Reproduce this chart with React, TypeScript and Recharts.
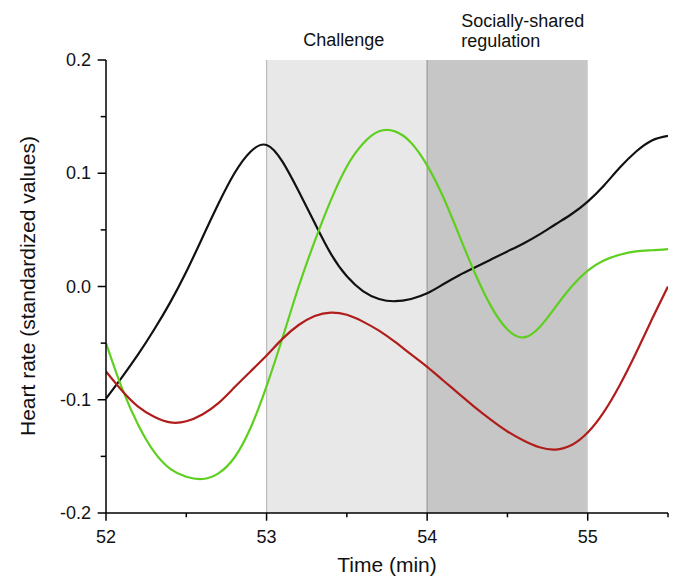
import { LineChart, Line, XAxis, YAxis, ReferenceArea, ReferenceLine } from "recharts";

const times = [
  52.0, 52.1, 52.2, 52.3, 52.4, 52.5, 52.6, 52.7, 52.8, 52.9,
  53.0, 53.1, 53.2, 53.3, 53.4, 53.5, 53.6, 53.7, 53.8, 53.9,
  54.0, 54.1, 54.2, 54.3, 54.4, 54.5, 54.6, 54.7, 54.8, 54.9,
  55.0, 55.1, 55.2, 55.3, 55.4, 55.5,
];

const blackSeries = [
  -0.099, -0.08, -0.06, -0.038, -0.014, 0.013, 0.043, 0.073, 0.1, 0.119,
  0.125, 0.11, 0.084, 0.056, 0.029, 0.009, -0.004, -0.011, -0.013, -0.011,
  -0.006, 0.002, 0.01, 0.017, 0.024, 0.031, 0.038, 0.046, 0.055, 0.064,
  0.075, 0.089, 0.105, 0.119, 0.129, 0.133,
];

const greenSeries = [
  -0.05, -0.09, -0.122, -0.146, -0.161, -0.168, -0.17, -0.165, -0.151, -0.125,
  -0.088, -0.045, 0.0, 0.04, 0.076, 0.106, 0.126, 0.137, 0.137, 0.127,
  0.107, 0.079, 0.045, 0.011, -0.018, -0.038, -0.045, -0.036, -0.018, 0.0,
  0.014, 0.023, 0.028, 0.031, 0.032, 0.033,
];

const redSeries = [
  -0.075, -0.092, -0.106, -0.115, -0.12, -0.119, -0.113, -0.103, -0.089, -0.075,
  -0.061, -0.046, -0.034, -0.026, -0.023, -0.025, -0.031, -0.039, -0.049, -0.06,
  -0.071, -0.083, -0.095, -0.107, -0.118, -0.128, -0.136, -0.142, -0.144, -0.14,
  -0.129, -0.111, -0.087, -0.059, -0.029, 0.0,
];

const xTicks = [52, 52.5, 53, 53.5, 54, 54.5, 55, 55.5];
const xMajor = [52, 53, 54, 55];
const yTicks = [-0.2, -0.15, -0.1, -0.05, 0, 0.05, 0.1, 0.15, 0.2];
const yMajor = [-0.2, -0.1, 0, 0.1, 0.2];

const X_MIN = 52;
const Y_MIN = -0.2;
// tick mark lengths in data units (about 8px / 5px at this size)
const X_TICK_MAJOR = 0.0068;
const X_TICK_MINOR = 0.0038;
const Y_TICK_MAJOR = 0.052;
const Y_TICK_MINOR = 0.033;

const chartData = times.map((t, i) => ({
  t,
  black: blackSeries[i],
  green: greenSeries[i],
  red: redSeries[i],
}));

const FONT = "'Liberation Sans', Arial, Helvetica, sans-serif";

function isMajor(list: number[], v: number) {
  return list.some((m) => Math.abs(m - v) < 1e-6);
}

function XTick(props: any) {
  const { payload } = props;
  const x = Number(props.x);
  const y = Number(props.y);
  if (!isMajor(xMajor, payload.value)) return <g />;
  return (
    <text x={x} y={y + 30} textAnchor="middle" fontSize={18} fontFamily={FONT} fill="#111" stroke="none">
      {payload.value}
    </text>
  );
}

function YTick(props: any) {
  const { payload } = props;
  const x = Number(props.x);
  const y = Number(props.y);
  if (!isMajor(yMajor, payload.value)) return <g />;
  return (
    <text x={x - 15} y={y + 6} textAnchor="end" fontSize={18} fontFamily={FONT} fill="#111" stroke="none">
      {payload.value.toFixed(1)}
    </text>
  );
}

function ChallengeLabel(props: any) {
  const { viewBox } = props;
  return (
    <text x={viewBox.x + viewBox.width / 2 - 3} y={viewBox.y - 14} textAnchor="middle" fontSize={18} fontFamily={FONT} fill="#111">
      Challenge
    </text>
  );
}

function SharedLabel(props: any) {
  const { viewBox } = props;
  return (
    <text x={viewBox.x + 34} y={viewBox.y - 33} fontSize={18} fontFamily={FONT} fill="#111">
      <tspan x={viewBox.x + 34}>Socially-shared</tspan>
      <tspan x={viewBox.x + 34} dy={20}>regulation</tspan>
    </text>
  );
}

export default function App() {
  return (
    <div style={{ position: "absolute", left: 0, top: 0, background: "#fff" }}>
      <LineChart
        width={677}
        height={581}
        data={chartData}
        margin={{ top: 60, right: 9, left: 6, bottom: 8 }}
      >
        <ReferenceArea x1={53} x2={54} y1={-0.2} y2={0.2} fill="#e8e8e8" fillOpacity={1} stroke="none" label={<ChallengeLabel />} />
        <ReferenceArea x1={54} x2={55} y1={-0.2} y2={0.2} fill="#c6c6c6" fillOpacity={1} stroke="none" label={<SharedLabel />} />
        <ReferenceLine x={53} stroke="#bdbdbd" strokeWidth={1.3} />
        <ReferenceLine x={54} stroke="#9c9c9c" strokeWidth={1.3} />
        <XAxis
          dataKey="t"
          type="number"
          domain={[52, 55.5]}
          ticks={xTicks}
          interval={0}
          height={60}
          tickSize={0}
          tickMargin={0}
          tickLine={false}
          tick={<XTick />}
          stroke="#000"
          strokeWidth={1.5}
          allowDataOverflow
        />
        <YAxis
          type="number"
          domain={[-0.2, 0.2]}
          ticks={yTicks}
          interval={0}
          width={100}
          tickSize={0}
          tickMargin={0}
          tickLine={false}
          tick={<YTick />}
          stroke="#000"
          strokeWidth={1.5}
          allowDataOverflow
        />
        {xTicks.map((v) => (
          <ReferenceLine
            key={`xt${v}`}
            ifOverflow="visible"
            stroke="#000"
            strokeWidth={1.5}
            segment={[
              { x: v, y: Y_MIN },
              { x: v, y: Y_MIN - (isMajor(xMajor, v) ? X_TICK_MAJOR : X_TICK_MINOR) },
            ]}
          />
        ))}
        {yTicks.map((v) => (
          <ReferenceLine
            key={`yt${v}`}
            ifOverflow="visible"
            stroke="#000"
            strokeWidth={1.5}
            segment={[
              { x: X_MIN, y: v },
              { x: X_MIN - (isMajor(yMajor, v) ? Y_TICK_MAJOR : Y_TICK_MINOR), y: v },
            ]}
          />
        ))}
        <Line type="natural" dataKey="black" stroke="#111111" strokeWidth={2.2} dot={false} isAnimationActive={false} />
        <Line type="natural" dataKey="green" stroke="#5fcf1f" strokeWidth={2.2} dot={false} isAnimationActive={false} />
        <Line type="natural" dataKey="red" stroke="#b01d1b" strokeWidth={2.2} dot={false} isAnimationActive={false} />
      </LineChart>
      <svg width={677} height={581} style={{ position: "absolute", left: 0, top: 0, pointerEvents: "none" }}>
        <text x={35} y={286} transform="rotate(-90, 35, 286)" textAnchor="middle" fontSize={21} fontFamily={FONT} fill="#111">
          Heart rate (standardized values)
        </text>
        <text x={387} y={572} textAnchor="middle" fontSize={21} fontFamily={FONT} fill="#111">
          Time (min)
        </text>
      </svg>
    </div>
  );
}
